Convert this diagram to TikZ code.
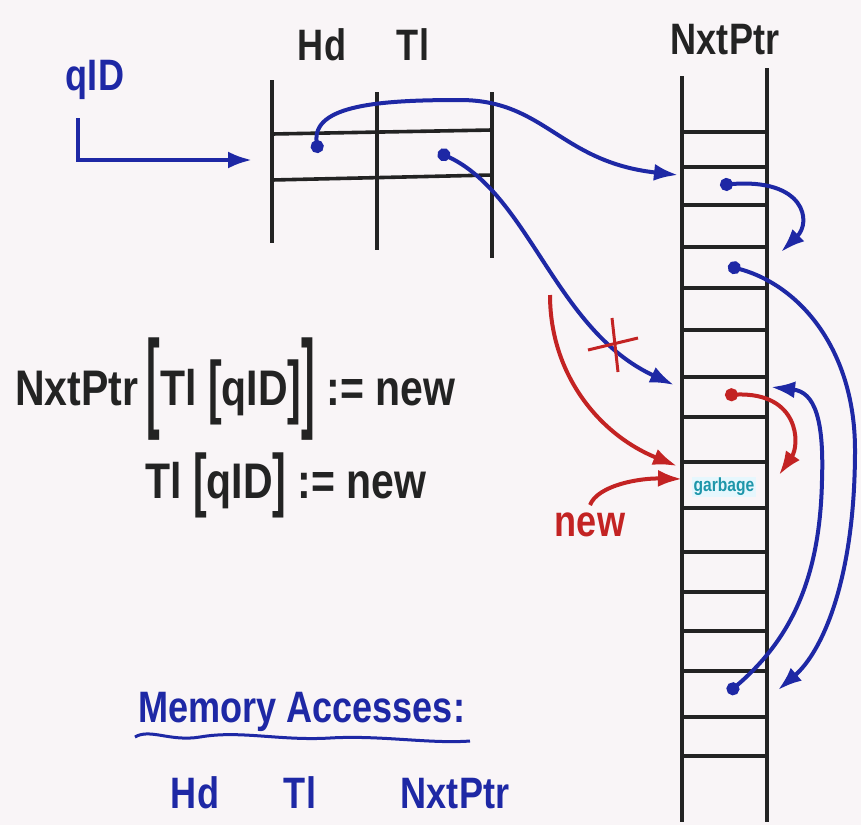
\documentclass[tikz,border=0pt]{standalone}
\usepackage{fontspec}
\usetikzlibrary{arrows.meta}
\newfontfamily\hand[FakeStretch=0.82]{Liberation Sans}
\definecolor{bgc}{RGB}{249,245,247}
\definecolor{ink}{RGB}{35,35,35}
\definecolor{pen}{RGB}{30,40,165}
\definecolor{redpen}{RGB}{195,35,35}
\definecolor{tealpen}{RGB}{30,150,170}
\newcommand{\bigbr}[1]{\raisebox{-12pt}{\scalebox{1}[2.2]{#1}}}
\newcommand{\midbr}[1]{\raisebox{-5pt}{\scalebox{1}[1.4]{#1}}}
\begin{document}
\begin{tikzpicture}[x=1pt,y=-1pt,
  grid/.style={draw=ink,line width=3.6pt},
  bl/.style={draw=pen,line width=4pt},
  rd/.style={draw=redpen,line width=4pt},
  tip/.style={-{Latex[length=24pt,width=17pt]}},
  dottip/.style={{Circle[length=13pt]}-{Latex[length=24pt,width=17pt]}},
  lbl/.style={font=\hand\bfseries\fontsize{44}{50}\selectfont,text=ink,inner sep=0pt},
  blbl/.style={font=\hand\bfseries\fontsize{44}{50}\selectfont,text=pen,inner sep=0pt},
  eq/.style={font=\hand\bfseries\fontsize{50}{56}\selectfont,text=ink,inner sep=0pt,anchor=base west}]
\fill[bgc] (0,0) rectangle (861,825);
\useasboundingbox (0,0) rectangle (861,825);

% Hd/Tl table
\draw[grid] (272,80) -- (272,243);
\draw[grid] (377,92) -- (377,250);
\draw[grid] (492,92) -- (492,258);
\draw[grid] (272,134) -- (492,130);
\draw[grid] (272,180) -- (492,175);
\node[lbl] (hd) at (322,45) {Hd};
\node[lbl] (tl) at (413,45) {Tl};

% NxtPtr column
\draw[grid] (682,76) -- (682,822);
\draw[grid] (767,68) -- (767,822);
\foreach \y in {132,167,205,247,288,330,377,417,462,508,552,592,631,671,717,756}
  \draw[grid] (682,\y) -- (767,\y);
\node[lbl] (nxt) at (725,40) {NxtPtr};

% garbage cell
\node[fill=cyan!10,text=tealpen,font=\hand\bfseries\fontsize{19}{22}\selectfont,inner sep=1.5pt] (garb) at (724,487) {garbage};

% qID
\node[blbl] (qid) at (95,80) {qID};
\coordinate (q0) at (78,118);
\coordinate (q1) at (252,160);
\draw[bl,tip] (q0) |- (q1);

% points
\coordinate (hddot) at (318,153);
\coordinate (tldot) at (438,152);
\coordinate (n1in) at (678,175);
\coordinate (n1dot) at (720,185);
\coordinate (n2in) at (781,252);
\coordinate (n2dot) at (728,266);
\coordinate (n6in) at (674,385);
\coordinate (n6inr) at (771,387);
\coordinate (n6dot) at (725,395);
\coordinate (n8in) at (677,466);
\coordinate (n8in2) at (682,479);
\coordinate (n8inr) at (779,475);
\coordinate (n14in) at (778,690);
\coordinate (n14dot) at (728,693);
\coordinate (rstart) at (550,295);
\coordinate (newstart) at (590,505);

% blue arrows
\draw[bl,dottip] (hddot) .. controls (312,105) and (380,100) .. (460,100)
   .. controls (545,100) and (560,162) .. (n1in);
\draw[bl,dottip] (tldot) .. controls (530,195) and (555,330) .. (n6in);
\draw[bl,dottip] (n1dot) .. controls (805,178) and (812,222) .. (n2in);
\draw[bl,dottip] (n2dot) .. controls (800,285) and (855,350) .. (855,450)
   .. controls (855,580) and (822,652) .. (n14in);
\draw[bl,dottip] (n14dot) .. controls (790,640) and (820,580) .. (822,480)
   .. controls (824,420) and (815,392) .. (n6inr);

% red arrows
\draw[rd,tip] (rstart) .. controls (550,375) and (600,435) .. (n8in);
\draw[rd,line width=3pt] (588,350) -- (638,338);
\draw[rd,line width=3pt] (612,318) -- (618,372);
\node[font=\hand\bfseries\fontsize{44}{50}\selectfont,text=redpen,inner sep=0pt] (new) at (590,525) {new};
\draw[rd,tip] (newstart) .. controls (598,485) and (640,478) .. (n8in2);
\draw[rd,dottip] (n6dot) .. controls (800,392) and (800,445) .. (n8inr);

% equations
\node[eq] (eq1) at (15,405) {NxtPtr\,\bigbr{[}Tl \midbr{[}qID\midbr{]}\bigbr{]} := new};
\node[eq] (eq2) at (145,498) {Tl \midbr{[}qID\midbr{]} := new};

% memory accesses
\node[blbl,anchor=base west] (mem) at (138,722) {Memory Accesses:};
\draw[pen,line width=3pt] (135,737) .. controls (150,728) and (170,742) .. (200,737)
  .. controls (240,730) and (280,741) .. (330,738) .. controls (380,735) and (430,744) .. (470,741);
\node[blbl,anchor=base] (m1) at (195,808) {Hd};
\node[blbl,anchor=base] (m2) at (300,808) {Tl};
\node[blbl,anchor=base] (m3) at (455,808) {NxtPtr};
\end{tikzpicture}
\end{document}
